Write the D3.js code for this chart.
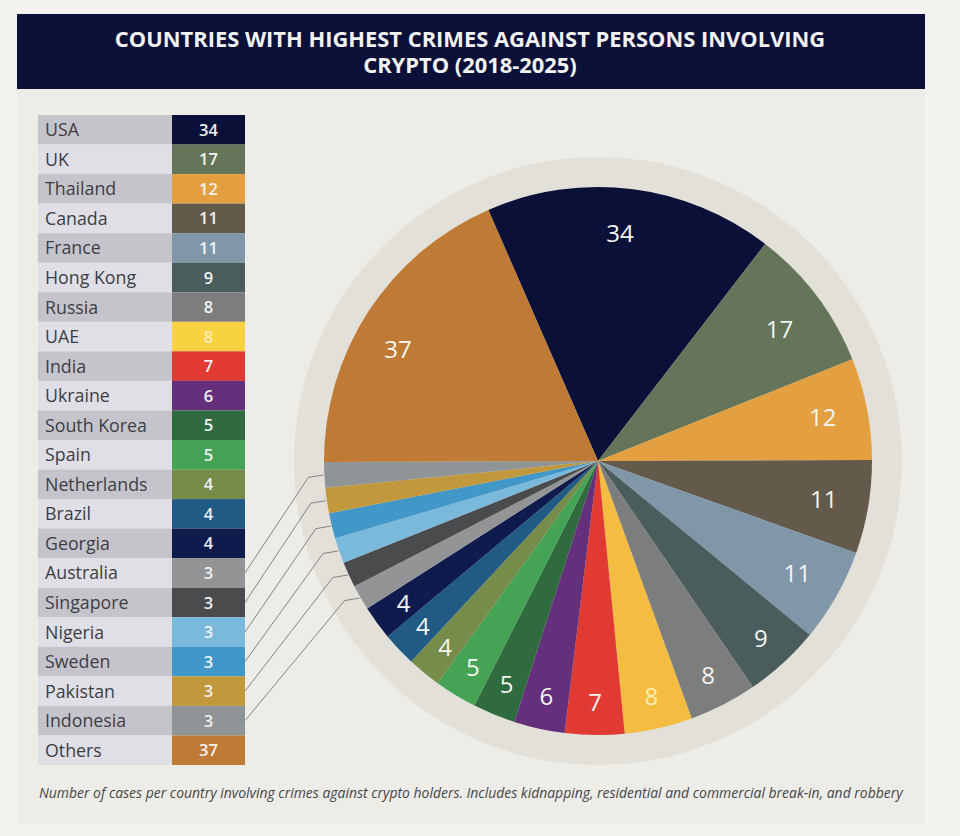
<!DOCTYPE html>
<html><head><meta charset="utf-8">
<script src="https://cdn.jsdelivr.net/npm/d3@7/dist/d3.min.js"></script>
<style>html,body{margin:0;padding:0;background:#f4f2ee;overflow:hidden}svg{display:block;font-family:"Open Sans",sans-serif}</style>
</head><body><svg id="c" width="960" height="836"></svg>
<script>
const countries=["USA","UK","Thailand","Canada","France","Hong Kong","Russia","UAE","India","Ukraine","South Korea","Spain","Netherlands","Brazil","Georgia","Australia","Singapore","Nigeria","Sweden","Pakistan","Indonesia","Others"];
const cases=[34,17,12,11,11,9,8,8,7,6,5,5,4,4,4,3,3,3,3,3,3,37];
const colors=["#0a1038","#64755a","#e4a040","#635a4b","#7f97a9","#4a5c5b","#7c7e7e","#f4bc40","#e03a32","#64307c","#2f6b3e","#44a355","#758c4a","#205a85","#0f1a4d","#929496","#4a4b4d","#7ab8dc","#4297c9","#c2983c","#8f9496","#bf7b36"];
const titleLines=["COUNTRIES WITH HIGHEST CRIMES AGAINST PERSONS INVOLVING","CRYPTO (2018-2025)"];
const footnote="Number of cases per country involving crimes against crypto holders. Includes kidnapping, residential and commercial break-in, and robbery";

const svg=d3.select("#c");
// backgrounds
svg.append("rect").attr("x",17).attr("y",89).attr("width",908).attr("height",736).attr("fill","#eeece7");
svg.append("rect").attr("x",17).attr("y",14).attr("width",908).attr("height",75).attr("fill","#0b1038");
svg.append("text").attr("text-anchor","middle").attr("fill","#f2f2f0").attr("font-weight",700).attr("font-size",21.9)
  .selectAll("tspan").data(titleLines).join("tspan")
  .attr("x",470).attr("y",(d,i)=>47+i*26).text(d=>d);

// table
const y=d3.scaleBand().domain(countries).range([115,765]);
const rows=svg.append("g").selectAll("g").data(countries).join("g");
rows.append("rect").attr("x",38).attr("y",d=>y(d)).attr("width",134).attr("height",y.bandwidth())
  .attr("fill",(d,i)=>i%2?"#e0dfe6":"#c6c4cb");
rows.append("rect").attr("x",172).attr("y",d=>y(d)).attr("width",73).attr("height",y.bandwidth())
  .attr("fill",(d,i)=>i===7?"#f8d240":colors[i]);
rows.append("text").attr("x",45).attr("y",d=>y(d)+y.bandwidth()/2+6.5).attr("font-size",17.8)
  .attr("fill","#3c3e44").text(d=>d);
rows.append("text").attr("x",208.5).attr("y",d=>y(d)+y.bandwidth()/2+6).attr("text-anchor","middle")
  .attr("font-size",16.5).attr("font-weight",600).attr("fill",(d,i)=>i===7?"#fbeeb8":"#f2f2f0").text((d,i)=>cases[i]);

// pie
const cx=598,cy=461,R=274;
const g=svg.append("g").attr("transform",`translate(${cx},${cy})`);
g.append("circle").attr("r",304).attr("fill","#e2e0d9");
const rad=Math.PI/180;
const start=-23.6*rad;
const pie=d3.pie().value(d=>d).sort(null).startAngle(start).endAngle(start+2*Math.PI);
const arcs=pie(cases);
const arc=d3.arc().innerRadius(0).outerRadius(R);
g.selectAll("path").data(arcs).join("path").attr("d",arc).attr("fill",(d,i)=>colors[i]);
const polar=(a,r)=>[r*Math.sin(a),-r*Math.cos(a)];
const labelled=arcs.filter(d=>d.value>3);
// Label anchors sit a little off the slice bisector for the big slices at the top
const nudge=d=>d.index===21?-4*rad:d.index===0?-1.5*rad:d.index===1?1.2*rad:0;
const labelR=d=>d.index===1?224:d.value>=11?229:241;
g.selectAll("text").data(labelled).join("text")
  .attr("transform",d=>{const p=polar((d.startAngle+d.endAngle)/2+nudge(d),labelR(d));return `translate(${p})`})
  .attr("text-anchor","middle").attr("dy","0.36em").attr("font-size",24)
  .attr("fill",d=>d.index===7?"#fbeeb8":"#f4f4f0").text(d=>d.value);

// leader lines: table rows of the 3-case countries to their slices
const small=arcs.filter(d=>d.value===3).slice().reverse();
const rowsSmall=countries.filter((c,i)=>cases[i]===3);
const line=d3.line();
svg.append("g").selectAll("path").data(small).join("path")
  .attr("fill","none").attr("stroke","#77787a").attr("stroke-width",0.9)
  .attr("d",(d,i)=>{
    const a=(d.startAngle+d.endAngle)/2;
    const [ex,ey]=polar(a,275);
    const end=[cx+ex,cy+ey];
    const elbow=[end[0]-15,end[1]+2.5];
    return line([[245,y(rowsSmall[i])+y.bandwidth()/2],elbow,end]);
  });

svg.append("text").attr("x",39).attr("y",797.5).attr("font-size",13.95).attr("font-style","italic")
  .attr("font-weight",500).attr("fill","#45464a").text(footnote);
</script></body></html>
